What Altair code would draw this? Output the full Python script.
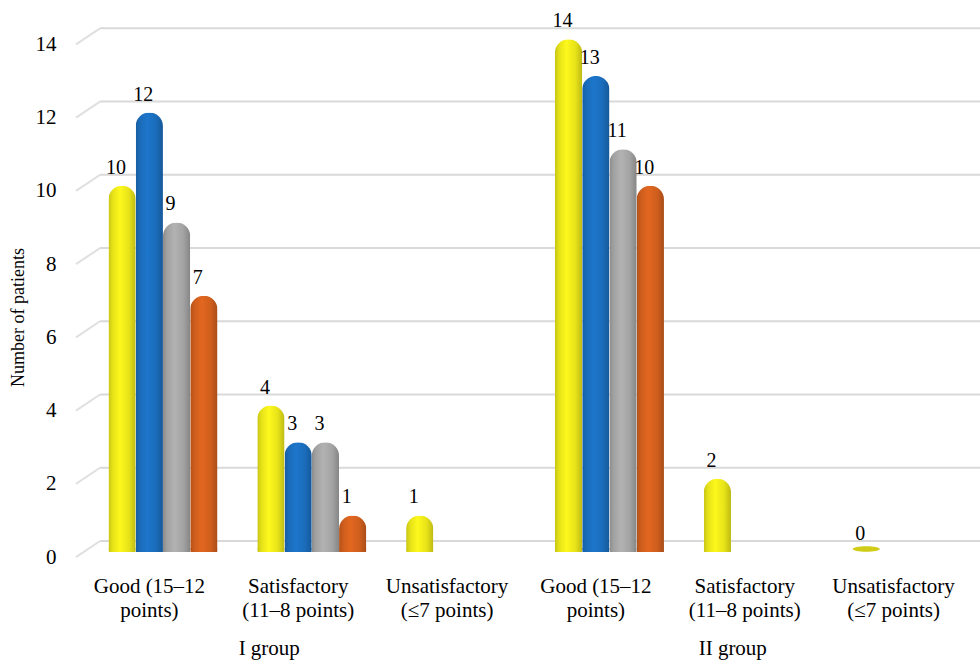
import altair as alt
import pandas as pd

# ---- data -------------------------------------------------------------
groups = ["I group", "II group"]
category_lines = [
    ["Good (15–12", "points)"],
    ["Satisfactory", "(11–8 points)"],
    ["Unsatisfactory", "(≤7 points)"],
]
series = ["Series 1", "Series 2", "Series 3", "Series 4"]
series_colors = ["#ECE81A", "#1B6EBE", "#A6A6A6", "#D3601E"]

# patients per group -> per category -> per series (missing series omitted)
values_group1 = [[10, 12, 9, 7], [4, 3, 3, 1], [1]]
values_group2 = [[14, 13, 11, 10], [2], [0]]

y_ticks = [0, 2, 4, 6, 8, 10, 12, 14]

# ---- table --------------------------------------------------------------
keys = []
rows = []
for g, gvals in zip(groups, [values_group1, values_group2]):
    for lines, cvals in zip(category_lines, gvals):
        key = "|".join([g] + lines)
        keys.append(key)
        for s, v in zip(series, cvals):
            rows.append({"key": key, "group": g, "series": s, "value": v})
df = pd.DataFrame(rows)

grid_df = pd.DataFrame({"v": y_ticks})
group_df = pd.DataFrame({"group": groups, "key": [keys[1], keys[4]]})

W, H = 893, 531
Y_DOMAIN = [0, 14.5]
BACK = 0.30    # depth offset of the back wall, in value units
FRONT = -0.14  # front edge offset, in value units
FONT = "Liberation Serif"

x_enc = alt.X("key:N", sort=keys,
              scale=alt.Scale(domain=keys, paddingInner=0, paddingOuter=0),
              axis=alt.Axis(title=None, labelExpr="slice(split(datum.value, '|'), 1)",
                            labelFont=FONT, labelFontSize=21, labelColor="black",
                            labelLineHeight=24, labelPadding=23, labelAngle=0,
                            ticks=False, domain=False, grid=False))
xo_enc = alt.XOffset("series:N",
                     scale=alt.Scale(domain=series, paddingInner=0,
                                     paddingOuter=0.73, align=0.84))
y_scale = alt.Scale(domain=Y_DOMAIN, nice=False, zero=True)


def shade(hex_color, f):
    h = hex_color.lstrip("#")
    rgb = [int(h[i:i + 2], 16) for i in (0, 2, 4)]
    rgb = [max(0, min(255, round(c * f))) for c in rgb]
    return "#%02x%02x%02x" % tuple(rgb)


# ---- gridlines on the back wall with short perspective edges -----------
grid = alt.Chart(grid_df).transform_calculate(
    back=f"datum.v + {BACK}", front=f"datum.v + {FRONT}"
).mark_rule(color="#d9d9d9", strokeWidth=2).encode(
    y=alt.Y("back:Q", scale=y_scale,
            axis=alt.Axis(values=y_ticks, title="Number of patients",
                          labelFont=FONT, labelFontSize=21, labelColor="black",
                          labelPadding=19, labelOffset=5, ticks=False,
                          domain=False, grid=False,
                          titleFont=FONT, titleFontSize=18, titleFontWeight="normal",
                          titleColor="black", titleX=-57, titleY=296,
                          titleAlign="center", titleBaseline="middle")),
    x=alt.value(25), x2=alt.value(W + 12),
)
edges = alt.Chart(grid_df).transform_calculate(
    back=f"datum.v + {BACK}", front=f"datum.v + {FRONT}"
).mark_rule(color="#e0e0e0", strokeWidth=2).encode(
    y=alt.Y("front:Q", scale=y_scale), y2="back:Q",
    x=alt.value(1), x2=alt.value(25),
)

# ---- cylinder bars: one layer per series with a shaded fill -------------
bar_layers = []
base_layers = []
for s, c in zip(series, series_colors):
    grad = alt.LinearGradient(
        gradient="linear", x1=0, x2=1, y1=0, y2=0,
        stops=[alt.GradientStop(offset=0, color=shade(c, 0.84)),
               alt.GradientStop(offset=0.15, color=shade(c, 0.97)),
               alt.GradientStop(offset=0.42, color=shade(c, 1.07)),
               alt.GradientStop(offset=0.75, color=shade(c, 0.98)),
               alt.GradientStop(offset=1, color=shade(c, 0.8))])
    bar_layers.append(
        alt.Chart(df).transform_filter(
            f"datum.series == '{s}' && datum.value > 0"
        ).mark_bar(color=grad, cornerRadiusTopLeft=13.6, cornerRadiusTopRight=13.6)
        .encode(x=x_enc, xOffset=xo_enc,
                y=alt.Y("value:Q", scale=y_scale))
    )
    base_layers.append(
        alt.Chart(df).transform_filter(f"datum.series == '{s}'")
        .transform_calculate(zero="0.08")
        .mark_point(shape="M -1 0 A 1 0.2 0 1 0 1 0 A 1 0.2 0 1 0 -1 0 Z",
                    size=743, filled=True, opacity=1, color=shade(c, 0.88),
                    strokeWidth=0)
        .encode(x=x_enc, xOffset=xo_enc,
                y=alt.Y("zero:Q", scale=y_scale))
    )

# ---- value labels ------------------------------------------------------
labels = alt.Chart(df).mark_text(
    font=FONT, fontSize=20, color="black", baseline="alphabetic",
    align="center", dx=-6, dy=-12
).encode(x=x_enc, xOffset=xo_enc, y=alt.Y("value:Q", scale=y_scale),
         text="value:Q")

group_labels = alt.layer(*[
    alt.Chart(group_df).transform_filter(f"datum.group == '{g}'").mark_text(
        font=FONT, fontSize=21, color="black", baseline="alphabetic",
        align="center", dx=d
    ).encode(x=alt.X("key:N", sort=keys, scale=alt.Scale(domain=keys)),
             y=alt.value(634), text="group:N")
    for g, d in zip(groups, [-29, -12])
])

chart = alt.layer(
    grid, edges, *base_layers, *bar_layers, labels, group_labels
).properties(
    width=W, height=H,
    autosize=alt.AutoSizeParams(type="none"),
    padding={"left": 75, "top": 21, "right": 12, "bottom": 108},
    background="white",
).configure(font=FONT).configure_view(stroke=None)

chart.save("out.html", embed_options={"renderer": "svg", "actions": False})
